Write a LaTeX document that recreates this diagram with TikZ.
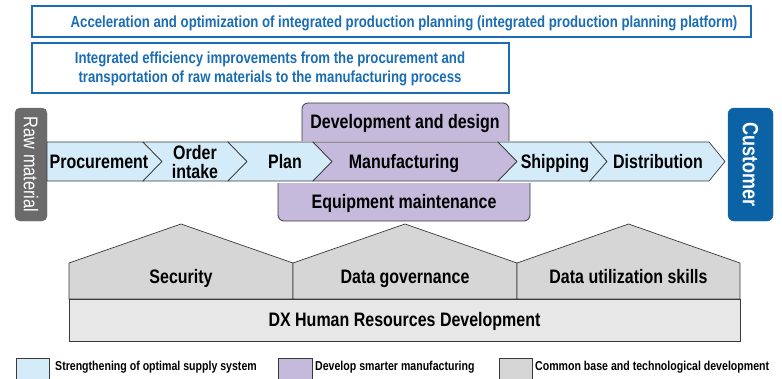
\documentclass[tikz,border=0pt]{standalone}
\usepackage{fontspec}
\setmainfont{Liberation Sans}[FakeStretch=0.82]
\definecolor{dxblue}{HTML}{1A6DB3}
\definecolor{custblue}{HTML}{0B63A6}
\definecolor{rawgray}{HTML}{6B6B6B}
\definecolor{lblue}{HTML}{D4ECF9}
\definecolor{lpurple}{HTML}{C5BADC}
\definecolor{roofgray}{HTML}{D6D6D6}
\definecolor{basegray}{HTML}{E7E7E7}
\definecolor{edge}{HTML}{3A3A3A}
\tikzset{
  bluebox/.style={draw=dxblue, line width=1.6pt, fill=white},
  bluetxt/.style={text=dxblue, font=\fontsize{16.1}{19}\selectfont\bfseries, align=center, inner sep=0pt},
  chev/.style={draw=edge, line width=0.7pt, line join=miter},
  lbl/.style={font=\fontsize{19.5}{18.5}\selectfont\bfseries, align=center, inner sep=0pt, text=black},
  blbl/.style={lbl, anchor=base},
  pbox/.style={draw=edge, line width=0.8pt, fill=lpurple, rounded corners=6pt},
  house/.style={draw=edge, line width=0.7pt, fill=roofgray},
  legbox/.style={draw=edge, line width=0.7pt},
  legtxt/.style={font=\fontsize{12.9}{14}\selectfont\bfseries, anchor=base west, inner sep=0pt}
}
\begin{document}
\begin{tikzpicture}[x=1pt,y=-1pt]
\useasboundingbox (0,0) rectangle (782,378);
\clip (0,0) rectangle (782,378);
% top boxes
\draw[bluebox] (32,6) rectangle (751,37);
\node[bluetxt, anchor=base] (t1) at (404,27.5) {Acceleration and optimization of integrated production planning (integrated production planning platform)};
\draw[bluebox] (32,43) rectangle (509,93);
\node[bluetxt] (t2) at (270,68.5) {Integrated efficiency improvements from the procurement and\\transportation of raw materials to the manufacturing process};
% end boxes
\node[draw=rawgray, fill=rawgray, rounded corners=5pt, minimum width=32pt, minimum height=113pt, inner sep=0pt] (raw) at (31,164.5) {};
\node[text=white, rotate=-90, font=\fontsize{19.9}{20}\selectfont, inner sep=0pt] (rawt) at (raw.center) {Raw material};
\node[draw=custblue, fill=custblue, rounded corners=6pt, minimum width=45pt, minimum height=113pt, inner sep=0pt] (cust) at (750.5,164.5) {};
\node[text=white, rotate=-90, font=\fontsize{22}{22}\selectfont\bfseries, inner sep=0pt] (custt) at (cust.center) {Customer};
% purple boxes
\draw[pbox] (302,141) -- (302,103) -- (509,103) -- (509,141);
\node[blbl] (dev) at (405,128.5) {Development and design};
\draw[pbox] (278,183) -- (278,221) -- (530,221) -- (530,183);
\node[blbl] (eq) at (404,208.5) {Equipment maintenance};
% chevrons
\draw[chev, fill=lblue] (47,142) -- (143,142) -- (162,161.5) -- (143,181) -- (47,181) -- cycle;
\draw[chev, fill=lblue] (143,142) -- (228,142) -- (247,161.5) -- (228,181) -- (143,181) -- (162,161.5) -- cycle;
\draw[chev, fill=lblue] (228,142) -- (313,142) -- (332,161.5) -- (313,181) -- (228,181) -- (247,161.5) -- cycle;
\draw[chev, fill=lpurple] (313,142) -- (498,142) -- (517,161.5) -- (498,181) -- (313,181) -- (332,161.5) -- cycle;
\draw[chev, fill=lblue] (498,142) -- (590,142) -- (607,161.5) -- (590,181) -- (498,181) -- (517,161.5) -- cycle;
\draw[chev, fill=lblue] (590,142) -- (709,142) -- (725,161.5) -- (709,181) -- (590,181) -- (607,161.5) -- cycle;
\node[blbl] (proc) at (99,168) {Procurement};
\node[lbl] (order) at (195,162) {Order\\intake};
\node[blbl] (plan) at (285,168) {Plan};
\node[blbl] (manu) at (404,168) {Manufacturing};
\node[blbl] (ship) at (555,168) {Shipping};
\node[blbl] (dist) at (658,168) {Distribution};
% houses
\draw[house] (69,299) -- (69,263) -- (181,224) -- (293,263) -- (293,299) -- cycle;
\draw[house] (293,299) -- (293,263) -- (405,224) -- (517,263) -- (517,299) -- cycle;
\draw[house] (517,299) -- (517,263) -- (628.5,224) -- (740,263) -- (740,299) -- cycle;
\draw[house, fill=basegray] (69,299) rectangle (740,341);
\node[blbl] (sec) at (181,283.5) {Security};
\node[blbl] (gov) at (405,283.5) {Data governance};
\node[blbl] (util) at (628.5,283.5) {Data utilization skills};
\node[blbl] (dx) at (404.5,326.5) {DX Human Resources Development};
% legend
\draw[legbox, fill=lblue] (16,358) rectangle (49,385);
\node[legtxt] (l1) at (55,370.5) {Strengthening of optimal supply system};
\draw[legbox, fill=lpurple] (278,358) rectangle (312,385);
\node[legtxt] (l2) at (315,370.5) {Develop smarter manufacturing};
\draw[legbox, fill=roofgray] (499,358) rectangle (532,385);
\node[legtxt] (l3) at (535,370.5) {Common base and technological development};
\end{tikzpicture}
\end{document}
